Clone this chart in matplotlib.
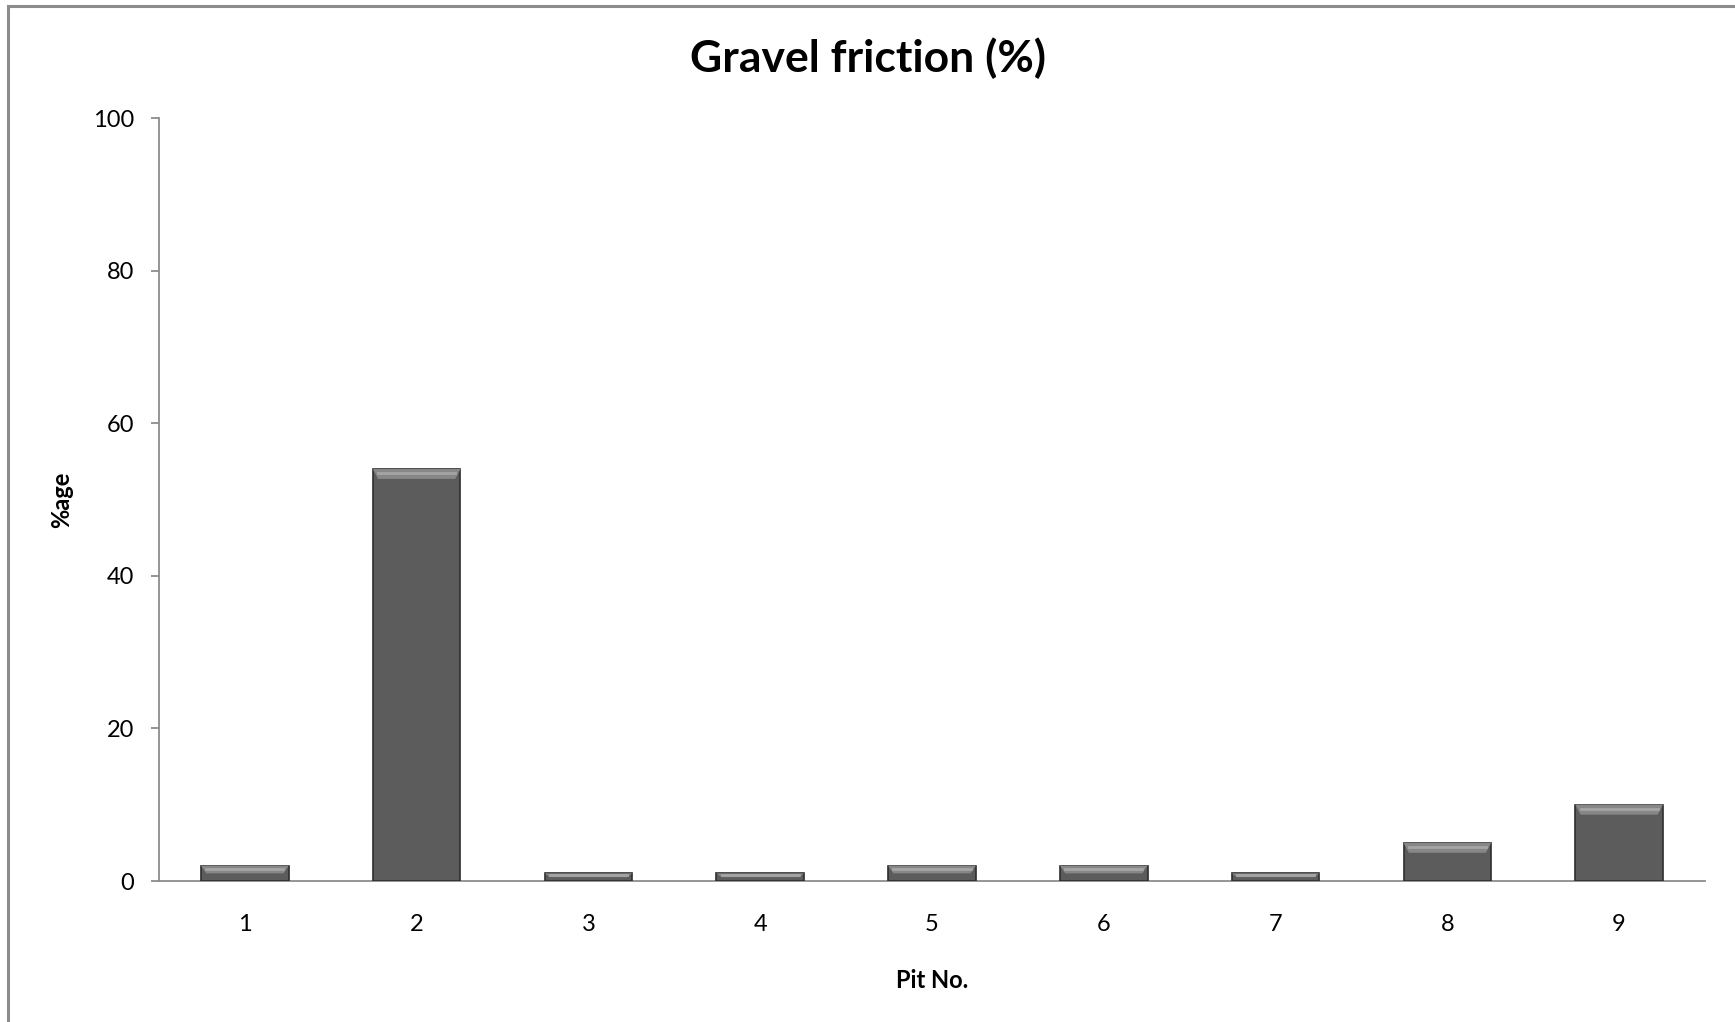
import numpy as np
import matplotlib
matplotlib.use("Agg")
import matplotlib.pyplot as plt
from matplotlib.patches import Polygon, Rectangle

plt.rcParams['font.family'] = ['Lato', 'DejaVu Sans']

# データ
pits = ["1", "2", "3", "4", "5", "6", "7", "8", "9"]
gravel = [2, 54, 1, 1, 2, 2, 1, 5, 10]

fig = plt.figure(figsize=(17.35, 10.22), dpi=100)
ax = fig.add_axes([159/1735, 1 - 881/1022, (1705-159)/1735, (881-118)/1022])

x = np.arange(len(pits))
bw = 0.51
bars = ax.bar(x, gravel, width=bw, color="#5c5c5c", edgecolor="#2e2e2e", linewidth=1.2, zorder=3)

# 上面のベベル（明るい帯）
for b in bars:
    x0 = b.get_x()
    w = b.get_width()
    h = b.get_height()
    d = min(1.3, h * 0.5)
    inset = w * 0.06
    poly = Polygon([[x0, h], [x0 + w, h], [x0 + w - inset, h - d], [x0 + inset, h - d]],
                   closed=True, facecolor="#878787", edgecolor="none", zorder=4)
    ax.add_patch(poly)
    ax.plot([x0 + inset, x0 + w - inset], [h - d * 0.45, h - d * 0.45], color="#a5a5a5", lw=2, zorder=5)

ax.set_xlim(-0.5, len(pits) - 0.5)
ax.set_ylim(0, 100)
ax.set_yticks([0, 20, 40, 60, 80, 100])
ax.set_xticks(x)
ax.set_xticklabels(pits)

for s in ["top", "right"]:
    ax.spines[s].set_visible(False)
ax.spines["left"].set_color("#8c8c8c")
ax.spines["bottom"].set_color("#8c8c8c")
ax.spines["left"].set_linewidth(1.3)
ax.spines["bottom"].set_linewidth(1.3)

ax.tick_params(axis="y", length=6, color="#8c8c8c", width=1.3, pad=12, labelsize=17)
ax.tick_params(axis="x", length=0, pad=24, labelsize=17)

ax.set_xlabel("Pit No.", fontsize=17, fontweight="bold", labelpad=24)
ax.set_ylabel("%age", fontsize=17, fontweight="bold", labelpad=14)
fig.text(0.5, 1 - 58/1022, "Gravel friction (%)", fontsize=32, fontweight="bold", ha="center", va="center")

# 外枠
fig.patches.append(Rectangle((8/1735, -0.1), 1.2, 1 - 6/1022 + 0.1, transform=fig.transFigure,
                             fill=False, edgecolor="#8c8c8c", linewidth=2.2))

fig.savefig("out.png", dpi=100)
